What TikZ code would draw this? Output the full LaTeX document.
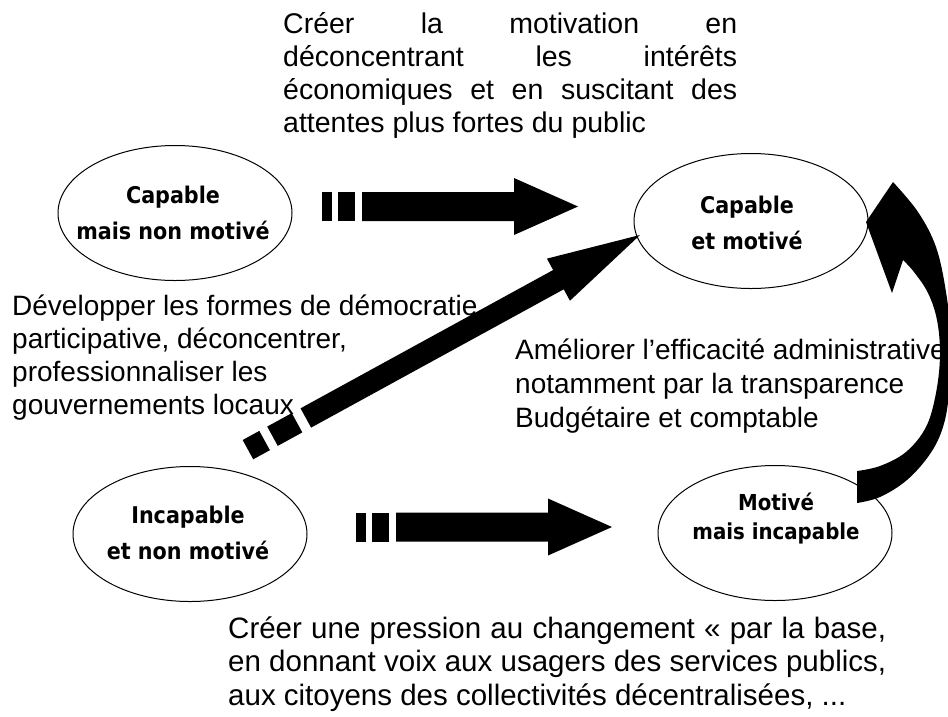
\documentclass[tikz,border=0pt]{standalone}
\usepackage{fontspec}
\setmainfont{Liberation Sans}
\newfontfamily\ellfont{DejaVu Sans Condensed}[BoldFont={DejaVu Sans Condensed Bold}]
\usetikzlibrary{shapes.geometric}
\begin{document}
\begin{tikzpicture}[x=1pt,y=-1pt,
  ell/.style={draw=black, line width=1pt, ellipse, minimum width=234pt, minimum height=135pt, inner sep=0pt},
  etxt/.style={anchor=base, inner sep=0pt, font=\ellfont\bfseries\fontsize{23}{36}\selectfont},
  btxt/.style={anchor=base west, inner sep=0pt},
  hbarrow/.pic={
    \fill[black] (-64,-14.5) -- (-64,-28.5) -- (0,0) -- (-64,28.5) -- (-64,14.5) -- (-216,14.5) -- (-216,-14.5) -- cycle;
    \fill[black] (-240,-14.5) rectangle (-223,14.5);
    \fill[black] (-256,-14.5) rectangle (-246,14.5);
  },
  diagarrow/.pic={
    \fill[black] (-93,-11) -- (-93,-24) -- (0,0) -- (-93,24) -- (-93,11) -- (-381,11) -- (-381,-11) -- cycle;
    \fill[black] (-419,-11) rectangle (-391,11);
    \fill[black] (-447,-11) rectangle (-428,11);
  }]
\fill[white] (0,0) rectangle (948,716);
\useasboundingbox (0,0) rectangle (948,716);

% ellipses
\node[ell] (e1) at (175,213) {};
\node[ell] (e2) at (751,221) {};
\node[ell] (e3) at (190,534) {};
\node[ell] (e4) at (775,533) {};

\node[etxt] (t1) at (173,203) {\begin{tabular}[t]{@{}c@{}}Capable\\mais non motivé\end{tabular}};
\node[etxt] (t2) at (747,213) {\begin{tabular}[t]{@{}c@{}}Capable\\et motivé\end{tabular}};
\node[etxt] (t3) at (188,523) {\begin{tabular}[t]{@{}c@{}}Incapable\\et non motivé\end{tabular}};
\node[etxt, font=\ellfont\bfseries\fontsize{22}{29}\selectfont] (t4) at (776,510) {\begin{tabular}[t]{@{}c@{}}Motivé\\mais incapable\end{tabular}};

% body texts
\node[btxt, font=\fontsize{28.5}{33}\selectfont] (top) at (283,33) {\begin{tabular}[t]{@{}l@{}}\makebox[454pt][s]{Créer la motivation en}\\\makebox[454pt][s]{déconcentrant les intérêts}\\\makebox[454pt][s]{économiques et en suscitant des}\\attentes plus fortes du public\end{tabular}};

\node[btxt, font=\fontsize{28}{33.3}\selectfont] (left) at (12,315) {\begin{tabular}[t]{@{}l@{}}Développer les formes de démocratie\\participative, déconcentrer,\\professionnaliser les\\gouvernements locaux\end{tabular}};

\node[btxt, font=\fontsize{28}{34}\selectfont] (right) at (515,359) {\begin{tabular}[t]{@{}l@{}}Améliorer l’efficacité administrative\\notamment par la transparence\\Budgétaire et comptable\end{tabular}};

\node[btxt, font=\fontsize{29.5}{33.5}\selectfont] (bottom) at (228,638) {\begin{tabular}[t]{@{}l@{}}\makebox[658pt][s]{Créer une pression au changement « par la base,}\\\makebox[658pt][s]{en donnant voix aux usagers des services publics,}\\aux citoyens des collectivités décentralisées, ...\end{tabular}};

% block arrows
\pic at (578,206.5) {hbarrow};
\pic at (612,527) {hbarrow};
\pic[rotate=28.7] at (640,235) {diagarrow};

% curved arrow from e4 to e2
\fill[black] (866,222) -- (893,182)
  -- plot[smooth, tension=0.6] coordinates {(893,182) (918,212) (936,247) (946,292) (951,340) (949,393) (943,427) (930,454) (907,480) (880,497) (857,503)}
  -- (857,471)
  -- plot[smooth, tension=0.6] coordinates {(857,471) (880,466) (906,452) (926,427) (936,393) (940,355) (937,320) (928,293) (914,272) (903,260)}
  -- (892,293) -- cycle;
\end{tikzpicture}
\end{document}
